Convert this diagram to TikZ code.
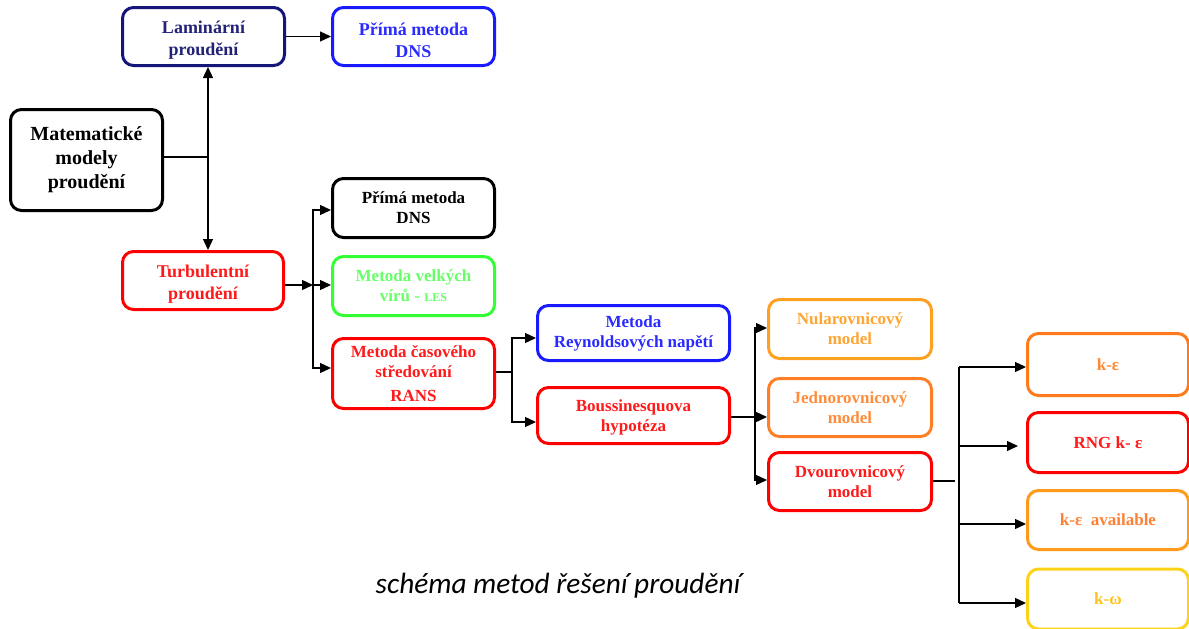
\documentclass[tikz,border=0pt]{standalone}
\usepackage{fontspec}
\setmainfont{Liberation Serif}
\newfontfamily\boxfont{Liberation Serif}
\newfontfamily\capfont{Carlito}
\usetikzlibrary{arrows.meta}
\newcommand\mystrut{\rule{0pt}{20pt}}
\definecolor{navyc}{HTML}{16167A}
\definecolor{navyt}{HTML}{222277}
\definecolor{bluec}{HTML}{1A1AFF}
\definecolor{bluet}{HTML}{2A2AFF}
\definecolor{redc}{HTML}{FF0000}
\definecolor{redt}{HTML}{FF1A1A}
\definecolor{greenc}{HTML}{33FF33}
\definecolor{greent}{HTML}{66FF66}
\definecolor{oranA}{HTML}{FFA020}
\definecolor{oranAt}{HTML}{FFA533}
\definecolor{oranB}{HTML}{FF7F27}
\definecolor{oranBt}{HTML}{FF8C3A}
\definecolor{oranC}{HTML}{FF7A1A}
\definecolor{oranCt}{HTML}{FF8833}
\definecolor{oranD}{HTML}{FF9A1A}
\definecolor{oranDt}{HTML}{FF7F33}
\definecolor{yelc}{HTML}{FFD21A}
\definecolor{yelt}{HTML}{FFC21A}
\tikzset{
  box/.style={draw, line width=3pt, rounded corners=11pt, rectangle, align=center,
    inner sep=2pt, font=\boxfont\bfseries\fontsize{17}{20}\selectfont},
  big/.style={font=\boxfont\bfseries\fontsize{18}{22}\selectfont},
  conn/.style={line width=1.3pt, black},
  arr/.style={conn, -{Triangle[length=11pt,width=10pt]}},
}
\begin{document}
\begin{tikzpicture}[x=1pt,y=1pt]
\useasboundingbox (0,0) rectangle (1189,-629);
% boxes
\node[box, big, draw=navyc, text=navyt, minimum width=162pt, minimum height=58pt] (lam) at (203.5,-36.5) {\mystrut Laminární\\proudění};
\node[box, big, draw=bluec, text=bluet, minimum width=162pt, minimum height=58pt] (dns1) at (413.5,-36.5) {\mystrut Přímá metoda\\DNS};
\node[box, draw=black, text=black, minimum width=152pt, minimum height=101pt, font=\boxfont\bfseries\fontsize{20}{24}\selectfont] (mat) at (86.5,-160) {Matematické\\modely\\proudění};
\node[box, draw=black, text=black, minimum width=162pt, minimum height=59pt] (dns2) at (413.5,-208) {Přímá metoda\\DNS};
\node[box, big, draw=redc, text=redt, minimum width=161pt, minimum height=58pt] (turb) at (203,-280.5) {\mystrut Turbulentní\\proudění};
\node[box, draw=greenc, text=greent, minimum width=162pt, minimum height=59pt] (les) at (413.5,-286) {Metoda velkých\\vírů - {\fontsize{12}{14}\selectfont LES}};
\node[box, draw=redc, text=redt, minimum width=162pt, minimum height=70pt] (rans) at (413.5,-373.5) {Metoda časového\\středování\\[4pt]RANS};
\node[box, draw=bluec, text=bluet, minimum width=192pt, minimum height=55pt] (rey) at (633.5,-333) {Metoda\\Reynoldsových napětí};
\node[box, draw=redc, text=redt, minimum width=192pt, minimum height=56pt] (bous) at (633.5,-415.5) {\rule{0pt}{16pt}Boussinesquova\\hypotéza};
\node[box, draw=oranA, text=oranAt, minimum width=163pt, minimum height=59pt] (nul) at (850,-329) {Nularovnicový\\model};
\node[box, draw=oranB, text=oranBt, minimum width=163pt, minimum height=58pt] (jed) at (850,-407.5) {Jednorovnicový\\model};
\node[box, draw=redc, text=redt, minimum width=163pt, minimum height=58pt] (dvo) at (850,-481.5) {Dvourovnicový\\model};
\node[box, draw=oranC, text=oranCt, minimum width=161pt, minimum height=62pt] (ke) at (1108,-364.5) {k-ε};
\node[box, draw=redc, text=redt, minimum width=161pt, minimum height=60pt] (rng) at (1108,-442.5) {RNG k- ε};
\node[box, draw=oranD, text=oranDt, minimum width=161pt, minimum height=59pt] (kea) at (1108,-520) {k-ε\ \ available};
\node[box, draw=yelc, text=yelt, minimum width=161pt, minimum height=60pt] (kw) at (1108,-599) {k-ω};
% caption
\node[font=\capfont\itshape\fontsize{29.3}{33}\selectfont] (cap) at (558,-586) {schéma metod řešení proudění};
% connectors
\coordinate (j1) at (208,-157);
\draw[conn] (mat.east |- j1) -- (j1);
\draw[arr] (j1) -- (j1 |- lam.south);
\draw[arr] (j1) -- (j1 |- turb.north);
\draw[arr] (lam.east) -- (dns1.west);
\coordinate (j2) at (313,-285);
\draw[arr] (turb.east |- j2) -- (j2);
\draw[arr] (j2) -- (les.west |- j2);
\draw[arr] (j2) |- ([yshift=-2pt]dns2.west);
\draw[arr] (j2) |- ([yshift=5.5pt]rans.west);
\coordinate (j3) at (512,-372);
\draw[conn] (rans.east |- j3) -- (j3);
\draw[arr] (j3) |- ([yshift=-5pt]rey.west);
\draw[arr] (j3) |- ([yshift=-6.5pt]bous.west);
\coordinate (j4) at (755,-417);
\draw[arr] (bous.east |- j4) -- (jed.west |- j4);
\draw[arr] (j4) |- ([yshift=1pt]nul.west);
\draw[arr] (j4) |- ([yshift=1.5pt]dvo.west);
\coordinate (d1) at (955,-481);
\draw[conn] (dvo.east |- d1) -- (d1);
\coordinate (v1) at (959,-367);
\coordinate (v2) at (959,-446);
\coordinate (v3) at (959,-524);
\coordinate (v4) at (959,-603);
\coordinate (rngend) at (1018,-446);
\draw[conn] (v1) -- (v4);
\draw[arr] (v1) -- (ke.west |- v1);
\draw[arr] (v2) -- (rngend);
\draw[arr] (v3) -- (kea.west |- v3);
\draw[arr] (v4) -- (kw.west |- v4);
\end{tikzpicture}
\end{document}
